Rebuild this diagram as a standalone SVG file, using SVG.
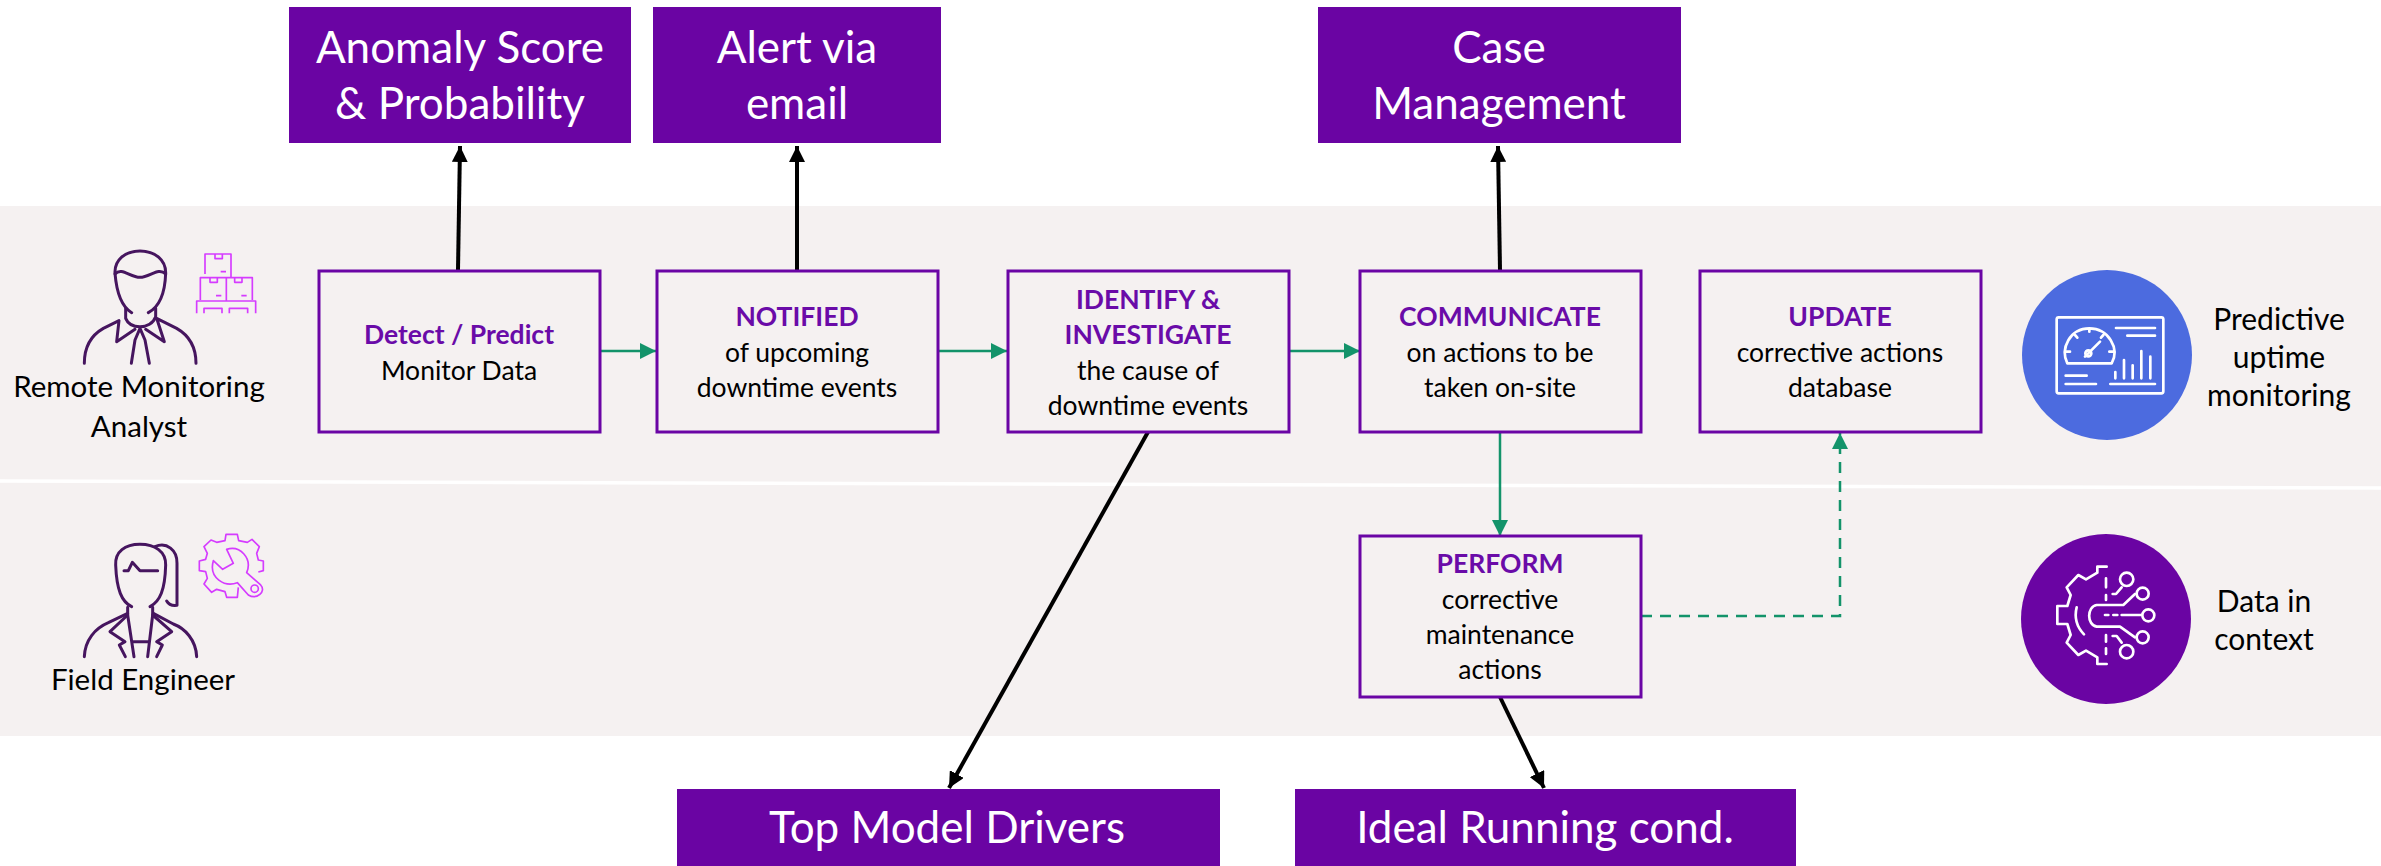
<svg xmlns="http://www.w3.org/2000/svg" width="2381" height="866" viewBox="0 0 2381 866">
<style>
text{font-family:"Lato","Carlito","Liberation Sans",sans-serif;text-anchor:middle;fill:#000}
.b{fill:none;stroke:#6a05a5;stroke-width:3}
.h{fill:#6a0ba8;font-weight:700;font-size:26.5px}
.t{font-size:26.5px}
.l{font-size:29.5px}
.r{font-size:30px}
.big{fill:#fff;font-size:44px}
.top{fill:#6a04a3}
.k{stroke:#000;stroke-width:4;fill:none;marker-end:url(#ka)}
.g{stroke:#13936a;stroke-width:2.5;fill:none;marker-end:url(#ga)}
.p{fill:none;stroke:#46155f;stroke-width:9;stroke-linecap:round;stroke-linejoin:round}
.m{fill:none;stroke:#d53cff;stroke-width:5;stroke-linejoin:round}
.w{fill:none;stroke:#fff;stroke-width:8;stroke-linecap:round;stroke-linejoin:round}
</style>
<defs>
<marker id="ka" viewBox="0 0 10 10" refX="10" refY="5" markerWidth="4" markerHeight="4" orient="auto"><path d="M0 0L10 5L0 10z" fill="#000"/></marker>
<marker id="ga" markerUnits="userSpaceOnUse" viewBox="0 0 16 16" refX="16" refY="8" markerWidth="16" markerHeight="16" orient="auto"><path d="M0 0L16 8L0 16z" fill="#13936a"/></marker>
</defs>
<rect width="2381" height="866" fill="#fff"/>
<g id="bands">
<rect x="0" y="206" width="2381" height="530" fill="#f5f1f1"/>
<path d="M0 481L2381 488" stroke="#fff" stroke-width="3.5"/>
</g>
<g id="connectors">
<path class="k" d="M458 270L460 146"/>
<path class="k" d="M797 270V146"/>
<path class="k" d="M1500 270L1498 146"/>
<path class="k" d="M1148 432L949 788"/>
<path class="k" d="M1500 697L1544 788"/>
<path class="g" d="M600 351H656"/>
<path class="g" d="M938 351H1007"/>
<path class="g" d="M1289 351H1360"/>
<path class="g" d="M1500 432V536"/>
<path class="g" stroke-dasharray="11 8" d="M1641 616H1840V433"/>
</g>
<g id="anomaly"><rect class="top" x="289" y="7" width="342" height="136"/><text class="big" x="460" y="63">Anomaly Score</text><text class="big" x="460" y="119">&amp; Probability</text></g>
<g id="alert"><rect class="top" x="653" y="7" width="288" height="136"/><text class="big" x="797" y="63">Alert via</text><text class="big" x="797" y="119">email</text></g>
<g id="case"><rect class="top" x="1318" y="7" width="363" height="136"/><text class="big" x="1499" y="63">Case</text><text class="big" x="1499" y="119">Management</text></g>
<g id="drivers"><rect class="top" x="677" y="789" width="543" height="77"/><text class="big" x="947" y="843">Top Model Drivers</text></g>
<g id="ideal"><rect class="top" x="1295" y="789" width="501" height="77"/><text class="big" x="1545" y="843">Ideal Running cond.</text></g>
<g id="detect"><rect class="b" x="319" y="271" width="281" height="161"/><text class="h" x="459" y="344">Detect / Predict</text><text class="t" x="459" y="380">Monitor Data</text></g>
<g id="notified"><rect class="b" x="657" y="271" width="281" height="161"/><text class="h" x="797" y="326">NOTIFIED</text><text class="t" x="797" y="362">of upcoming</text><text class="t" x="797" y="397">downtime events</text></g>
<g id="identify"><rect class="b" x="1008" y="271" width="281" height="161"/><text class="h" x="1148" y="309">IDENTIFY &amp;</text><text class="h" x="1148" y="344">INVESTIGATE</text><text class="t" x="1148" y="380">the cause of</text><text class="t" x="1148" y="415">downtime events</text></g>
<g id="communicate"><rect class="b" x="1360" y="271" width="281" height="161"/><text class="h" x="1500" y="326">COMMUNICATE</text><text class="t" x="1500" y="362">on actions to be</text><text class="t" x="1500" y="397">taken on-site</text></g>
<g id="update"><rect class="b" x="1700" y="271" width="281" height="161"/><text class="h" x="1840" y="326">UPDATE</text><text class="t" x="1840" y="362">corrective actions</text><text class="t" x="1840" y="397">database</text></g>
<g id="perform"><rect class="b" x="1360" y="536" width="281" height="161"/><text class="h" x="1500" y="573">PERFORM</text><text class="t" x="1500" y="609">corrective</text><text class="t" x="1500" y="644">maintenance</text><text class="t" x="1500" y="679">actions</text></g>
<g id="analyst">
<g transform="translate(0 200) scale(.33333)">
<path class="p" d="M395 338C365 320 350 280 345 220C343 180 375 153 420 153C465 153 498 180 497 220C495 280 480 320 445 338"/>
<path class="p" d="M345 222C365 200 390 232 420 232C450 232 475 200 497 222"/>
<path class="p" d="M377 325V355C385 375 405 380 420 380C440 380 460 370 467 350V325"/>
<path class="p" d="M253 490C253 440 275 405 310 385L357 362L350 425L405 388"/>
<path class="p" d="M588 490C588 440 565 405 530 385L470 355L493 425L437 388"/>
<path class="p" d="M420 385L405 420L394 490M420 385L435 420L448 490"/>
<path class="m" d="M615 222V162H693V230M645 162V176H667V162M662 215H678M601 300V233H757V300M630 233V247H652V233M704 233V247H726V233M648 287H664M724 287H740M679 233V302M590 340V303H767V340M612 340V325H666V340M688 340V325H743V340"/>
</g>
<text class="l" x="139" y="397">Remote Monitoring</text>
<text class="l" x="139" y="437">Analyst</text>
</g>
<g id="engineer">
<g transform="translate(0 500) scale(.33333)">
<path class="p" d="M395 320C365 305 350 270 347 195C345 155 375 133 420 133C465 133 498 155 497 195C495 270 480 305 450 320"/>
<path class="p" d="M465 140C500 125 532 150 531 190V316C515 318 505 312 500 303"/>
<path class="p" d="M372 212H385L397 187L420 212H473"/>
<path class="p" d="M383 322V345L330 395L375 425L358 435L376 470M458 322V345L515 395L470 425L487 435L470 470"/>
<path class="p" d="M253 470C255 420 285 385 325 368L383 340M590 470C588 420 555 385 520 372L460 340"/>
<path class="p" d="M383 345L402 470M458 345L443 470M397 425H448"/>
<path class="m" d="M775 216L790 212V183L775 180L770 160L778 140L756 118L742 127L716 122L712 103H678L675 122L650 127L633 120L612 140L622 160L617 178L598 183V212L617 215L622 235L612 252L635 277L650 268L675 275L680 292H712L715 262"/>
<path class="m" d="M640 182L668 208L700 190L680 148C720 135 758 175 740 218L782 255C800 275 770 300 745 285L712 248C675 262 625 235 640 182Z"/>
<circle class="m" cx="764" cy="266" r="11"/>
</g>
<text class="l" x="143" y="690">Field Engineer</text>
</g>
<g id="uptime">
<circle cx="2107" cy="355" r="85" fill="#4c6bdf"/>
<g transform="translate(1980 240) scale(.33333)">
<rect class="w" x="230" y="232" width="320" height="228" rx="6"/>
<path class="w" d="M262 370H395C420 325 385 265 328 265C270 265 240 325 262 370ZM328 265V275M285 285L292 293M370 285L363 293M258 335H270M398 335H388M315 350L360 305M408 264H525M442 287H525M257 407H320M257 432H348M391 432H525M406 396V415M432 360V415M458 376V415M484 333V415M511 350V415"/>
<circle class="w" cx="325" cy="340" r="9"/>
</g>
<text class="r" x="2279" y="330">Predictive</text>
<text class="r" x="2279" y="368">uptime</text>
<text class="r" x="2279" y="406">monitoring</text>
</g>
<g id="context">
<circle cx="2106" cy="619" r="85" fill="#6a04a3"/>
<g transform="translate(1980 500) scale(.33333)">
<path class="w" d="M380 200H352V218L318 238L295 225L260 262L272 285L262 318H232V372H262L272 405L260 428L295 465L318 452L352 472V492H380"/>
<path class="w" d="M378 235V262M378 285V300M378 405V425M378 445V462M290 322C283 350 290 380 312 403M375 315H350C320 320 320 375 350 380H375M375 345H385M400 345H412M425 345H485M375 315H430L465 282M375 380H420L465 412M398 282H408L425 262M398 408H410L425 428"/>
<circle class="w" cx="440" cy="238" r="20"/><circle class="w" cx="488" cy="281" r="18"/><circle class="w" cx="505" cy="346" r="18"/><circle class="w" cx="488" cy="412" r="18"/><circle class="w" cx="440" cy="455" r="20"/>
</g>
<text class="r" x="2264" y="612">Data in</text>
<text class="r" x="2264" y="650">context</text>
</g>
</svg>
